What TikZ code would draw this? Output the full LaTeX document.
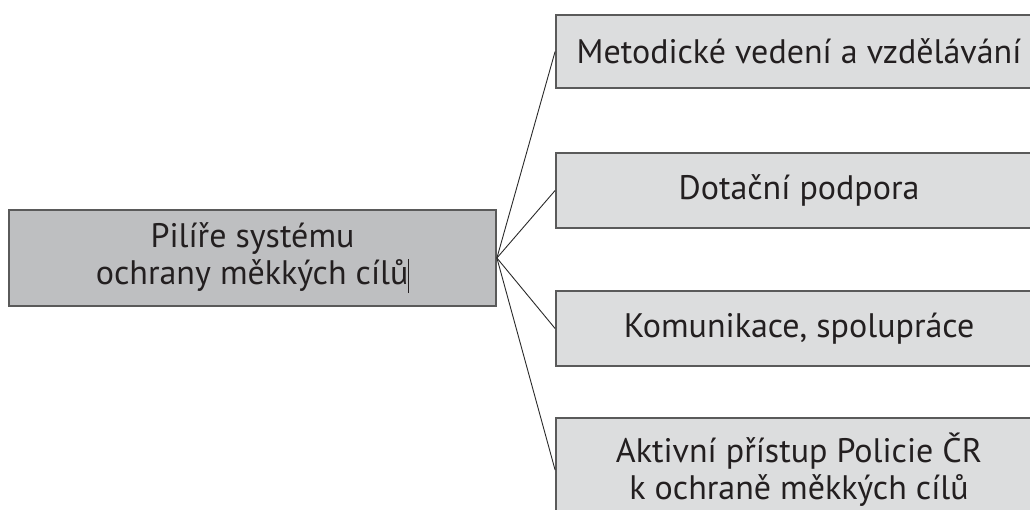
\documentclass[tikz,border=0pt]{standalone}
\usepackage{fontspec}
\setmainfont{PT Sans}
\definecolor{txt}{HTML}{231F20}
\definecolor{darkfill}{HTML}{BEBFC1}
\definecolor{lightfill}{HTML}{DCDDDE}
\definecolor{edge}{HTML}{5A5A5A}
\definecolor{conn}{HTML}{2A2A2A}
\begin{document}
\begin{tikzpicture}[x=1pt,y=-1pt,
  box/.style={draw=edge,line width=1.8pt,rectangle,inner sep=0pt,align=center,
    text=txt,font=\fontsize{34}{37}\selectfont},
  rootbox/.style={box,fill=darkfill,minimum width=487pt,minimum height=96pt},
  pillar/.style={box,fill=lightfill,minimum width=486pt},
  connector/.style={draw=conn,line width=0.9pt}]
\useasboundingbox (0,0) rectangle (1030,509);
\clip (0,0) rectangle (1030,509);
\node[rootbox] (root) at (252.5,258) {Pilíře systému\\ochrany měkkých cílů\rule[-0.25em]{0.7pt}{1.0em}};
\node[pillar,minimum height=73pt] (p1) at (799,51.5) {Metodické vedení a vzdělávání};
\node[pillar,minimum height=75pt] (p2) at (799,190.5) {Dotační podpora};
\node[pillar,minimum height=75pt] (p3) at (799,328.5) {Komunikace, spolupráce};
\node[pillar,minimum height=104pt] (p4) at (799,470) {Aktivní přístup Policie ČR\\k ochraně měkkých cílů};
\foreach \p in {p1,p2,p3,p4} \draw[connector] (root.east) -- (\p.west);
\end{tikzpicture}
\end{document}
